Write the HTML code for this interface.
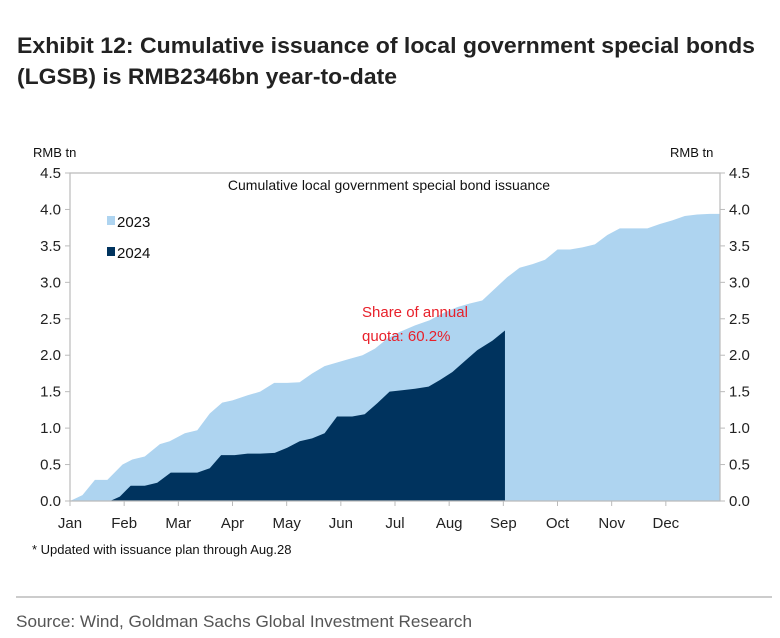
<!DOCTYPE html>
<html><head><meta charset="utf-8"><style>
body{margin:0;background:#fff;width:780px;height:638px;overflow:hidden}
svg{display:block;font-family:"Liberation Sans",Arial,sans-serif}
</style></head><body>
<svg id="chart" width="780" height="638" viewBox="0 0 780 638">
<text x="17" y="53" font-size="22" font-weight="bold" fill="#222" textLength="738" lengthAdjust="spacingAndGlyphs">Exhibit 12: Cumulative issuance of local government special bonds</text>
<text x="17" y="84" font-size="22" font-weight="bold" fill="#222" textLength="380" lengthAdjust="spacingAndGlyphs">(LGSB) is RMB2346bn year-to-date</text>
<text x="33" y="157" font-size="13" fill="#111">RMB tn</text>
<text x="670" y="157" font-size="13" fill="#111">RMB tn</text>
<g id="plot"></g>
<text x="389" y="190" font-size="14" text-anchor="middle" fill="#111">Cumulative local government special bond issuance</text>
<rect x="107" y="216" width="8" height="9" fill="#aed4f0"/>
<text x="117" y="227" font-size="15" fill="#111">2023</text>
<rect x="107" y="247" width="8" height="9" fill="#00335e"/>
<text x="117" y="258" font-size="15" fill="#111">2024</text>
<text x="362" y="317" font-size="15" fill="#e8202a">Share of annual</text>
<text x="362" y="341" font-size="15" fill="#e8202a">quota: 60.2%</text>
<text x="32" y="554" font-size="13" fill="#111">* Updated with issuance plan through Aug.28</text>
<line x1="16" y1="597" x2="772" y2="597" stroke="#999" stroke-width="1"/>
<text x="16" y="627" font-size="17" fill="#555" textLength="456" lengthAdjust="spacingAndGlyphs">Source: Wind, Goldman Sachs Global Investment Research</text>
</svg>
<script>
const months=["Jan","Feb","Mar","Apr","May","Jun","Jul","Aug","Sep","Oct","Nov","Dec"];
const yTicks=[0,0.5,1,1.5,2,2.5,3,3.5,4,4.5];
const x2023=[0,0.23,0.46,0.69,0.97,1.15,1.38,1.66,1.84,2.12,2.35,2.58,2.81,3.0,3.28,3.51,3.77,4.01,4.24,4.47,4.7,4.93,5.16,5.4,5.63,5.86,6.09,6.37,6.64,6.92,7.15,7.38,7.61,7.84,8.07,8.3,8.54,8.77,9.0,9.23,9.46,9.69,9.92,10.15,10.38,10.66,10.89,11.12,11.35,11.58,11.81,12];
const y2023=[0,0.08,0.29,0.29,0.5,0.57,0.61,0.78,0.82,0.93,0.97,1.2,1.35,1.38,1.45,1.5,1.62,1.62,1.63,1.75,1.85,1.9,1.95,2.0,2.09,2.23,2.32,2.41,2.48,2.59,2.66,2.71,2.75,2.91,3.07,3.2,3.25,3.31,3.45,3.45,3.48,3.52,3.65,3.74,3.74,3.74,3.8,3.85,3.91,3.93,3.94,3.94];
const x2024=[0.74,0.92,1.12,1.38,1.61,1.86,2.12,2.35,2.58,2.79,3.04,3.28,3.51,3.78,4.01,4.24,4.47,4.7,4.93,5.21,5.44,5.67,5.9,6.13,6.37,6.62,6.83,7.06,7.29,7.52,7.8,8.03];
const y2024=[0,0.06,0.21,0.21,0.25,0.39,0.39,0.39,0.45,0.63,0.63,0.65,0.65,0.66,0.73,0.82,0.86,0.93,1.16,1.16,1.19,1.34,1.5,1.52,1.54,1.57,1.66,1.77,1.92,2.07,2.2,2.34];
const L=70,R=720,T=173,B=501;
const sx=m=>L+(R-L)*m/12;
const sy=v=>B-(B-T)*v/4.5;
const NS="http://www.w3.org/2000/svg";
const g=document.getElementById('plot');
function mk(t,a){const e=document.createElementNS(NS,t);for(const k in a)e.setAttribute(k,a[k]);g.appendChild(e);return e;}
function area(xs,ys,fill,name){
  let d="M"+sx(xs[0])+","+B;
  xs.forEach((x,i)=>{d+=" L"+sx(x)+","+sy(ys[i]);});
  d+=" L"+sx(xs[xs.length-1])+","+B+" Z";
  const p=mk('path',{d:d,fill:fill});
  
  
}
area(x2023,y2023,'#aed4f0','area-2023');
area(x2024,y2024,'#00335e','area-2024');
const fr=mk('path',{d:`M${L},${B} L${L},${T} L${R},${T} L${R},${B} L${L},${B}`,fill:'none',stroke:'#bbb','stroke-width':1.2});


yTicks.forEach(v=>{
  const y=sy(v);
  const t1=mk('line',{x1:L-5,y1:y,x2:L,y2:y,stroke:'#bbb'});
  
  
  const t2=mk('line',{x1:R,y1:y,x2:R+5,y2:y,stroke:'#bbb'});
  
  
  const a=mk('text',{x:L-9,y:y+5,'font-size':15,'text-anchor':'end',fill:'#222'});
  a.textContent=v.toFixed(1);
  
  
  const b=mk('text',{x:R+9,y:y+5,'font-size':15,fill:'#222'});
  b.textContent=v.toFixed(1);
  
  
});
months.forEach((m,i)=>{
  const x=sx(i);
  const t=mk('line',{x1:x,y1:B,x2:x,y2:B+5,stroke:'#bbb'});
  
  
  const l=mk('text',{x:x,y:B+27,'font-size':15,'text-anchor':'middle',fill:'#222'});
  l.textContent=m;
  
  
});
</script>
</body></html>
